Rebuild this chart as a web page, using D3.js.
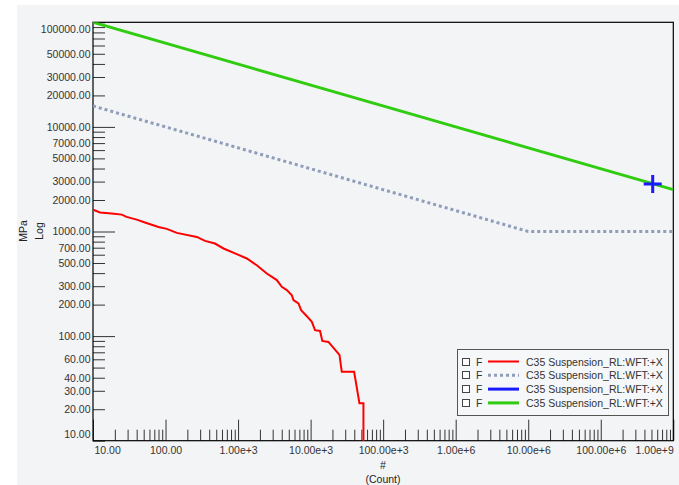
<!DOCTYPE html>
<html>
<head>
<meta charset="utf-8">
<script src="https://cdn.jsdelivr.net/npm/d3@7"></script>
<style>
	body { margin: 0; background: #fff; }
	text { font-family: "Liberation Sans", Arial, sans-serif; }
</style>
</head>
<body>
<script>
(function () {
	"use strict";

	// measured (red) curve: cycles / stress range
	var measN = [10, 12.5, 18, 25, 29, 40, 52, 80, 104, 143, 270, 350, 480, 630, 960,
		1320, 1810, 2490, 3420, 4010, 4700, 5510, 5800, 6800, 7400, 8870, 10400,
		11500, 13500, 14500, 17600, 25000, 26900, 39800, 47100, 53500, 53500];
	var measS = [1620, 1520, 1485, 1450, 1380, 1300, 1220, 1105, 1060, 970, 888, 813, 767, 688, 607,
		552, 476, 397, 343, 296, 275, 246, 221, 205, 177, 155, 137,
		114, 112, 90, 88, 66, 45.6, 45.6, 22.8, 22.8, 5];

	// design curve (dotted)
	var designN = [10, 1e7, 1e9];
	var designS = [15850, 1000, 1000];

	// green curve
	var greenN = [10, 1e9];
	var greenS = [100000, 2512];

	// blue point
	var pointN = [5.2e8];
	var pointS = [2850];

	var xDecades = [10, 100, 1e3, 1e4, 1e5, 1e6, 1e7, 1e8, 1e9];
	var yLabels = [100000, 50000, 30000, 20000, 10000, 7000, 5000, 3000, 2000,
		1000, 700, 500, 300, 200, 100, 60, 40, 30, 20, 10];
	var legendNames = ["C35 Suspension_RL:WFT:+X", "C35 Suspension_RL:WFT:+X",
		"C35 Suspension_RL:WFT:+X", "C35 Suspension_RL:WFT:+X"];

	var w = 679, h = 485;
	var left = 93, right = 673.3, top = 22.3, bottom = 440.7;

	var svg = d3.select("body").append("svg")
		.attr("width", w)
		.attr("height", h);

	svg.append("rect")
		.attr("x", 17).attr("y", 5)
		.attr("width", w - 17).attr("height", h - 5)
		.attr("fill", "#f3f4f6");

	var xScale = d3.scaleLog().domain([10, 1e9]).range([left, right]);
	var yScale = d3.scaleLog().domain([10, 1e5]).range([bottom, top]);

	function allTicks(lo, hi) {
		var t = [];
		for (var d = lo; d < hi; d *= 10) {
			for (var k = 1; k < 10; k++) t.push(d * k);
		}
		t.push(hi);
		return t;
	}
	function isDecade(v) {
		var l = Math.log10(v);
		return Math.abs(l - Math.round(l)) < 1e-9;
	}
	function xFmt(v) {
		if (v < 1000) return v.toFixed(2);
		var e = Math.floor(Math.round(Math.log10(v)) / 3) * 3;
		return (v / Math.pow(10, e)).toFixed(2) + "e+" + e;
	}

	// x axis
	var xAxisGen = d3.axisBottom(xScale)
		.tickValues(allTicks(10, 1e9))
		.tickSize(-11)
		.tickPadding(6)
		.tickFormat(function (d) { return isDecade(d) ? xFmt(d) : ""; });

	var xAxis = svg.append("g")
		.attr("transform", "translate(0," + bottom + ")")
		.call(xAxisGen);
	xAxis.select(".domain").remove();
	xAxis.selectAll(".tick line")
		.attr("stroke", "#333")
		.attr("y2", function (d) { return isDecade(d) ? -21 : -11; });
	xAxis.selectAll(".tick text")
		.attr("fill", "#333")
		.style("font-size", "10.5px")
		.attr("text-anchor", function (d) {
			if (d === 10) return "start";
			if (d === 1e9) return "end";
			return "middle";
		})
		.attr("x", function (d) { return d === 10 ? 1 : 0; });

	// y axis
	var yAxisGen = d3.axisLeft(yScale)
		.tickValues(allTicks(10, 1e5))
		.tickSize(-12)
		.tickPadding(2.5)
		.tickFormat(function (d) { return yLabels.indexOf(d) >= 0 ? d3.format(".2f")(d) : ""; });

	var yAxis = svg.append("g")
		.attr("transform", "translate(" + left + ",0)")
		.call(yAxisGen);
	yAxis.select(".domain").remove();
	yAxis.selectAll(".tick line")
		.attr("stroke", "#333")
		.attr("x2", function (d) { return isDecade(d) && d > 10 && d < 1e5 ? 22 : 12; });
	yAxis.selectAll(".tick text")
		.attr("fill", "#333")
		.style("font-size", "10.5px")
		.attr("y", function (d) {
			if (d === 1e5) return 7;
			if (d === 10) return -7;
			return 0;
		});

	// frame
	svg.append("rect")
		.attr("x", left).attr("y", top)
		.attr("width", right - left).attr("height", bottom - top)
		.attr("fill", "none")
		.attr("stroke", "#000")
		.attr("stroke-width", 1.2);

	// axis titles
	svg.append("text")
		.attr("transform", "translate(23,231) rotate(-90)")
		.attr("text-anchor", "middle")
		.attr("dominant-baseline", "central")
		.style("font-size", "10.5px")
		.attr("fill", "#222")
		.text("MPa");
	svg.append("text")
		.attr("transform", "translate(39,231) rotate(-90)")
		.attr("text-anchor", "middle")
		.attr("dominant-baseline", "central")
		.style("font-size", "10.5px")
		.attr("fill", "#222")
		.text("Log");
	svg.append("text")
		.attr("x", 383).attr("y", 465)
		.attr("text-anchor", "middle")
		.attr("dominant-baseline", "central")
		.style("font-size", "10.5px")
		.attr("fill", "#222")
		.text("#");
	svg.append("text")
		.attr("x", 383).attr("y", 479)
		.attr("text-anchor", "middle")
		.attr("dominant-baseline", "central")
		.style("font-size", "10.5px")
		.attr("fill", "#222")
		.text("(Count)");

	// clip
	svg.append("clipPath").attr("id", "plotclip")
		.append("rect")
		.attr("x", left).attr("y", top)
		.attr("width", right - left).attr("height", bottom - top);

	var plot = svg.append("g").attr("clip-path", "url(#plotclip)");

	var lineFun = d3.line()
		.x(function (d) { return xScale(d[0]); })
		.y(function (d) { return yScale(d[1]); });

	function pairs(a, b) { return a.map(function (v, i) { return [v, b[i]]; }); }

	plot.append("path")
		.attr("d", lineFun(pairs(designN, designS)))
		.attr("fill", "none")
		.attr("stroke", "#8f9cba")
		.attr("stroke-width", 3)
		.attr("stroke-dasharray", "3,3");

	plot.append("path")
		.attr("d", lineFun(pairs(measN, measS)))
		.attr("fill", "none")
		.attr("stroke", "#ff0000")
		.attr("stroke-width", 2)
		.attr("stroke-linejoin", "miter");

	plot.append("path")
		.attr("d", lineFun(pairs(greenN, greenS)))
		.attr("fill", "none")
		.attr("stroke", "#2fcc0f")
		.attr("stroke-width", 3);

	var sym = d3.symbol().type(d3.symbolCross);
	pairs(pointN, pointS).forEach(function (p) {
		var cx = xScale(p[0]), cy = yScale(p[1]);
		plot.append("path")
			.attr("d", "M" + (cx - 9) + "," + cy + "H" + (cx + 9) + "M" + cx + "," + (cy - 9) + "V" + (cy + 9))
			.attr("stroke", "#1a1aff")
			.attr("stroke-width", 3)
			.attr("fill", "none");
	});

	// legend
	var lg = svg.append("g");
	lg.append("rect")
		.attr("x", 457.5).attr("y", 349.5)
		.attr("width", 211).attr("height", 66)
		.attr("fill", "#f6f7f8")
		.attr("stroke", "#555");

	var legendStyles = [
		{ color: "#ff0000", width: 2, dash: null },
		{ color: "#8f9cba", width: 3, dash: "3,3" },
		{ color: "#1a1aff", width: 3, dash: null },
		{ color: "#2fcc0f", width: 3, dash: null }
	];

	legendNames.forEach(function (name, i) {
		var yy = 361.5 + i * 13.8;
		var st = legendStyles[i];
		lg.append("rect")
			.attr("x", 462.5).attr("y", Math.round(yy) - 3.5)
			.attr("width", 7).attr("height", 7)
			.attr("fill", "#fff")
			.attr("stroke", "#444");
		lg.append("text")
			.attr("x", 476).attr("y", yy)
			.attr("dominant-baseline", "central")
			.style("font-size", "10.5px")
			.attr("fill", "#333")
			.text("F");
		lg.append("line")
			.attr("x1", 488).attr("x2", 519)
			.attr("y1", yy).attr("y2", yy)
			.attr("stroke", st.color)
			.attr("stroke-width", st.width)
			.attr("stroke-dasharray", st.dash);
		lg.append("text")
			.attr("x", 526).attr("y", yy)
			.attr("dominant-baseline", "central")
			.style("font-size", "10.5px")
			.attr("fill", "#333")
			.text(name);
	});
})();
</script>
</body>
</html>
